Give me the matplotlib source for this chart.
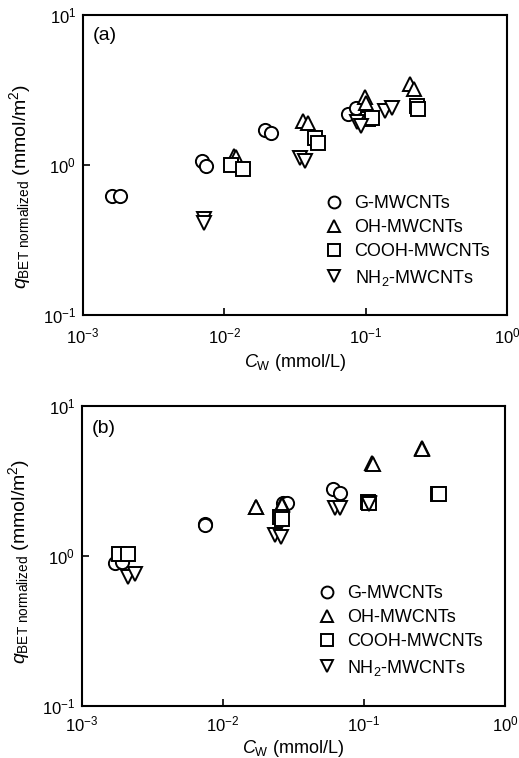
import matplotlib
matplotlib.use("Agg")
import matplotlib.pyplot as plt

plt.rcParams['font.family'] = ['Liberation Sans', 'DejaVu Sans']
plt.rcParams['mathtext.fontset'] = 'custom'
plt.rcParams['mathtext.rm'] = 'Liberation Sans'
plt.rcParams['mathtext.it'] = 'Liberation Sans:italic'
plt.rcParams['mathtext.bf'] = 'Liberation Sans:bold'

series_names = ["G-MWCNTs", "OH-MWCNTs", "COOH-MWCNTs", r"NH$_2$-MWCNTs"]
markers = ["o", "^", "s", "v"]

# Panel (a)
a_G_x = [0.0016, 0.00183, 0.00692, 0.00742, 0.0194, 0.0213, 0.0755, 0.0855]
a_G_y = [0.62, 0.62, 1.07, 0.99, 1.71, 1.64, 2.19, 2.41]
a_OH_x = [0.0117, 0.0120, 0.0359, 0.0393, 0.099, 0.100, 0.206, 0.218]
a_OH_y = [1.15, 1.13, 1.97, 1.91, 2.83, 2.58, 3.47, 3.24]
a_COOH_x = [0.0111, 0.01364, 0.0438, 0.0463, 0.1045, 0.110, 0.230, 0.236]
a_COOH_y = [1.00, 0.95, 1.51, 1.40, 2.03, 2.05, 2.49, 2.36]
a_NH2_x = [0.00718, 0.00718, 0.0343, 0.0372, 0.087, 0.093, 0.137, 0.153]
a_NH2_y = [0.436, 0.41, 1.125, 1.06, 1.95, 1.82, 2.30, 2.39]

# Panel (b)
b_G_x = [0.00171, 0.00191, 0.00745, 0.0075, 0.0268, 0.0283, 0.0606, 0.0676]
b_G_y = [0.89, 0.90, 1.63, 1.61, 2.24, 2.24, 2.78, 2.61]
b_OH_x = [0.0171, 0.0172, 0.0261, 0.0263, 0.1135, 0.116, 0.257, 0.259]
b_OH_y = [2.12, 2.12, 2.20, 2.18, 4.13, 4.06, 5.20, 5.17]
b_COOH_x = [0.00184, 0.00211, 0.0254, 0.0260, 0.107, 0.109, 0.337, 0.338]
b_COOH_y = [1.03, 1.03, 1.82, 1.76, 2.26, 2.24, 2.57, 2.56]
b_NH2_x = [0.00213, 0.00238, 0.0234, 0.0257, 0.0622, 0.0676, 0.108, 0.109]
b_NH2_y = [0.72, 0.755, 1.37, 1.33, 2.07, 2.07, 2.24, 2.22]

panels = [
    ("(a)", [(a_G_x, a_G_y), (a_OH_x, a_OH_y), (a_COOH_x, a_COOH_y), (a_NH2_x, a_NH2_y)]),
    ("(b)", [(b_G_x, b_G_y), (b_OH_x, b_OH_y), (b_COOH_x, b_COOH_y), (b_NH2_x, b_NH2_y)]),
]

fig = plt.figure(figsize=(5.19, 7.58), dpi=100)
axes_rects = [[0.160, 0.584, 0.817, 0.396], [0.158, 0.069, 0.815, 0.396]]
legend_anchor = [(0.570, 0.401), (0.557, 0.402)]
ylabel_y = [0.43, 0.48]
tag_y = [0.932, 0.924]
xpad = [8, 6.5]
xlabelpad = [4, 2.5]

for i, (tag, data) in enumerate(panels):
    ax = fig.add_axes(axes_rects[i])
    for (x, y), m, name in zip(data, markers, series_names):
        ax.plot(x, y, linestyle='none', marker=m, ms=9.5, mfc='white',
                mec='black', mew=1.4, label=name)
    ax.set_xscale('log')
    ax.set_yscale('log')
    ax.set_xlim(1e-3, 1e0)
    ax.set_ylim(1e-1, 1e1)
    ax.minorticks_off()
    ax.tick_params(which='major', direction='in', length=5, width=1.2,
                   labelsize=12)
    ax.tick_params(axis='x', pad=xpad[i])
    ax.tick_params(axis='y', pad=5)
    for sp in ax.spines.values():
        sp.set_linewidth(1.5)
    ax.set_xlabel(r'$C_{\mathrm{W}}$ (mmol/L)', fontsize=13, labelpad=xlabelpad[i])
    ax.set_ylabel(r'$q_{\mathrm{BET\ normalized}}$ (mmol/m$^2$)', fontsize=14)
    ax.yaxis.set_label_coords(-0.118, ylabel_y[i])
    ax.text(0.024, tag_y[i], tag, transform=ax.transAxes, fontsize=14,
            ha='left', va='center')
    ax.legend(loc='upper left', bbox_to_anchor=legend_anchor[i], frameon=False,
              fontsize=13, borderpad=0, handlelength=1.0, handletextpad=0.65,
              labelspacing=0.40, markerscale=0.9, borderaxespad=0)

fig.savefig("out.png", dpi=100)
